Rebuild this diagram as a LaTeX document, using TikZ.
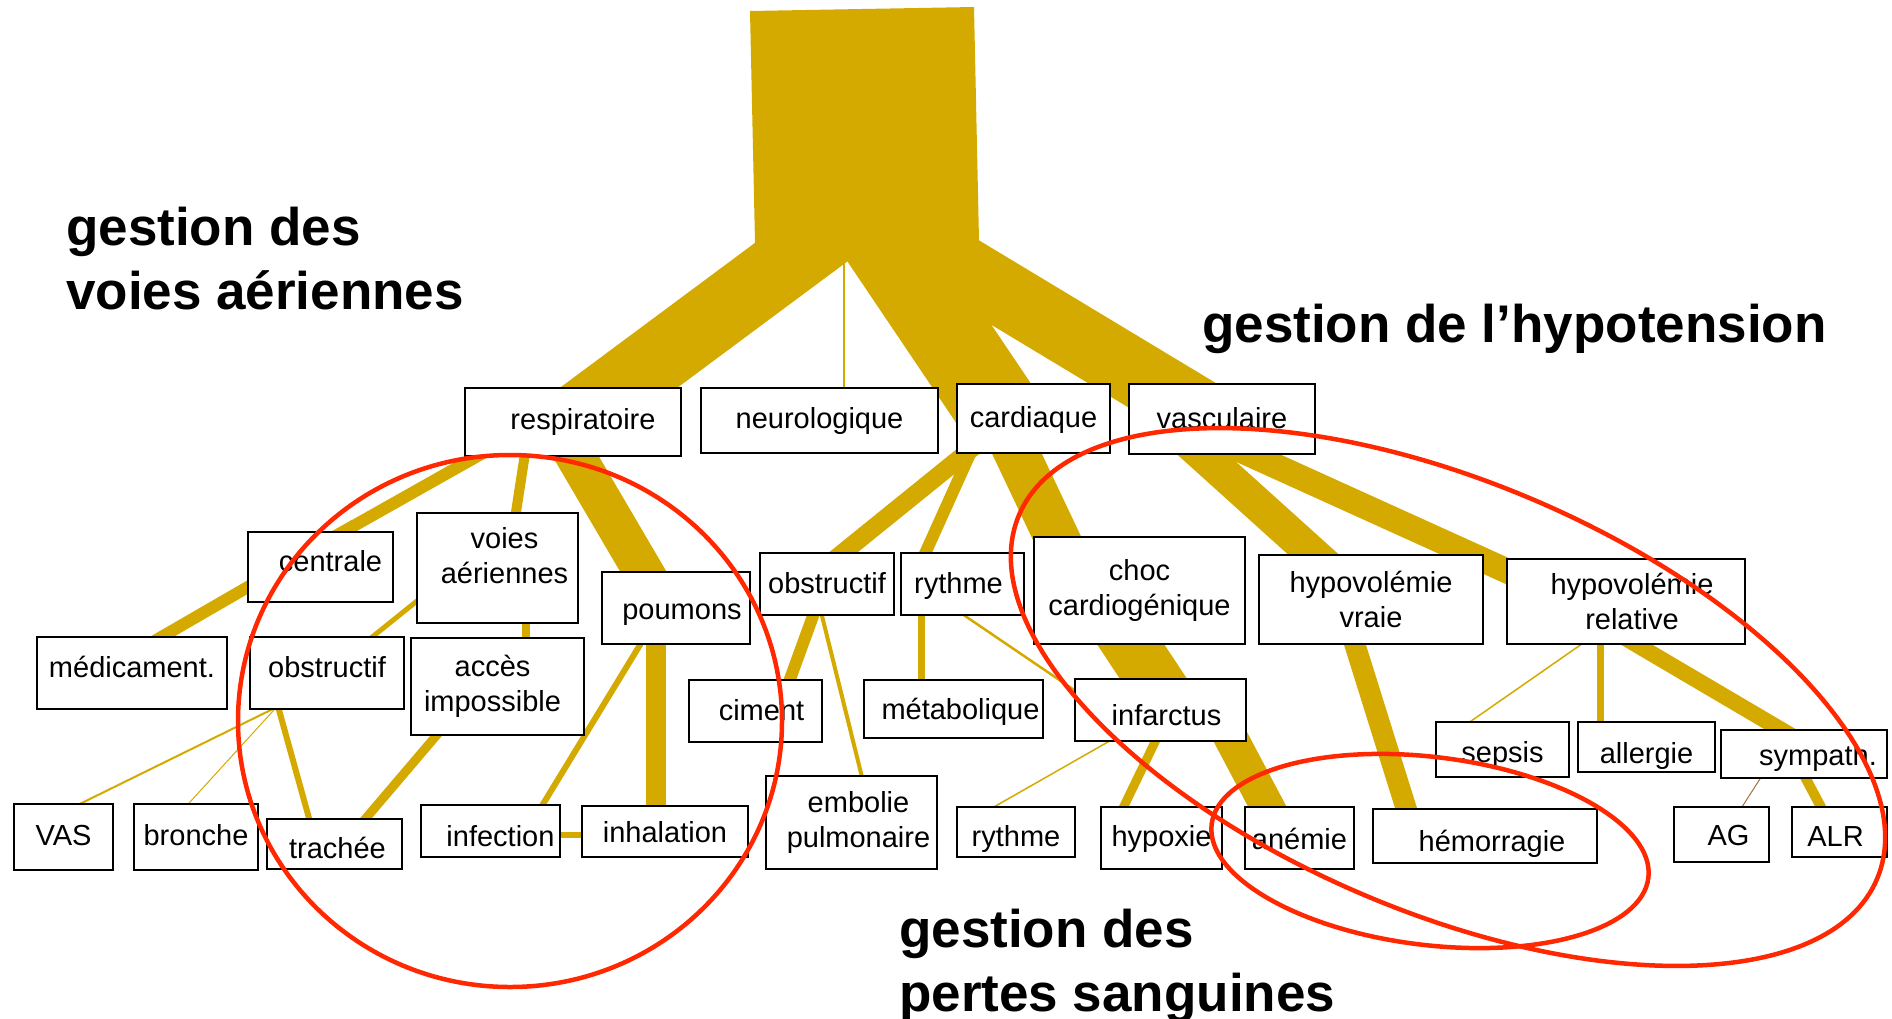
\documentclass[tikz,border=0pt]{standalone}
\usepackage{fontspec}
\setmainfont{Liberation Sans}
\usetikzlibrary{backgrounds}
\pgfdeclarelayer{bg}
\pgfsetlayers{bg,main}

\definecolor{gold}{RGB}{213,170,0}
\definecolor{ringred}{RGB}{255,40,0}
\definecolor{brownline}{RGB}{160,115,70}

\tikzset{
  box/.style={draw=black, line width=1.8pt, fill=white, inner sep=2pt, align=center,
    font=\fontsize{29pt}{34.8pt}\selectfont},
  % baseline of a one-line label sits #1 below the box centre
  tx/.code={\pgfmathsetlengthmacro\txh{17pt+#1pt}\pgfmathsetlengthmacro\txd{17pt-#1pt}%
    \edef\txtmp{\noexpand\pgfkeysalso{/tikz/text height=\txh, /tikz/text depth=\txd}}\txtmp},
  boxsize/.style 2 args={minimum width=#1pt, minimum height=#2pt},
  link/.style={draw=gold, line width=#1pt},
  ext/.style 2 args={shorten <=-#1pt, shorten >=-#2pt},
  title/.style={font=\fontsize{53pt}{63.6pt}\selectfont\bfseries, align=left,
    anchor=north west, inner sep=0pt},
  ring/.style={draw=ringred, line width=4.5pt}
}

\begin{document}
\begin{tikzpicture}[x=1pt, y=-1pt]
  \useasboundingbox (0,0) rectangle (1892,1018);

  % first level
  \node[box, tx=7, boxsize={216}{68}] (resp) at (573,422) {\hspace*{20pt}respiratoire};
  \node[box, tx=8, boxsize={237}{65}] (neuro) at (819.5,420.5) {neurologique};
  \node[box, tx=9.2, boxsize={153}{69}] (cardi) at (1033.5,418.5) {cardiaque};
  \node[box, tx=9.2, boxsize={186}{70}] (vasc) at (1222,419) {vasculaire};

  % second level
  \node[box, tx=4.4, boxsize={145}{70}] (centrale) at (320.5,567) {\hspace*{20pt}centrale};
  \node[box, boxsize={161}{110}] (voies) at (497.5,568)
    {\hspace*{14pt}voies\\\hspace*{14pt}aériennes\\[-10pt]\mbox{}};
  \node[box, tx=11.4, boxsize={148}{72}] (poumons) at (676,608) {\hspace*{12pt}poumons};
  \node[box, tx=9.2, boxsize={134}{62}] (obstrC) at (827,584) {obstructif};
  \node[box, tx=9.2, boxsize={123}{62}] (rythmeC) at (962.5,584) {rythme\hspace*{8pt}};
  \node[box, boxsize={211}{107}] (choc) at (1139.5,590.5) {choc\\cardiogénique};
  \node[box, boxsize={224}{89}] (hypoV) at (1371,599.5) {hypovolémie\\vraie};
  \node[box, boxsize={238}{85}] (hypoR) at (1626,601.5)
    {\hspace*{12pt}hypovolémie\\\hspace*{12pt}relative};

  % third level
  \node[box, tx=4.4, boxsize={190}{72}] (medic) at (132,673) {médicament.};
  \node[box, tx=4.4, boxsize={154}{72}] (obstrL) at (327,673) {obstructif};
  \node[box, boxsize={173}{97}] (acces) at (497.5,686.5)
    {accès\hspace*{10pt}\\impossible\hspace*{10pt}};
  \node[box, tx=9.2, boxsize={133}{62}] (ciment) at (755.5,711) {\hspace*{12pt}ciment};
  \node[box, tx=10.4, boxsize={179}{58}] (metab) at (953.5,709) {\hspace*{14pt}métabolique};
  \node[box, tx=15.4, boxsize={171}{62}] (infarct) at (1160.5,710) {\hspace*{12pt}infarctus};
  \node[box, tx=12.8, boxsize={133}{55}] (sepsis) at (1502.5,749.5) {sepsis};
  \node[box, tx=16.4, boxsize={137}{50}] (allergie) at (1646.5,747) {allergie};
  \node[box, tx=11.4, boxsize={166}{48}] (sympath) at (1804,754) {\hspace*{28pt}sympath.};

  % bottom row
  \node[box, tx=8, boxsize={99}{66}] (VAS) at (63.5,837) {VAS};
  \node[box, tx=8, boxsize={124}{66}] (bronche) at (196,837) {bronche};
  \node[box, tx=14, boxsize={135}{50}] (trachee) at (334.5,844) {\hspace*{6pt}trachée};
  \node[box, tx=15.4, boxsize={139}{52}] (infection) at (490.5,831) {\hspace*{20pt}infection};
  \node[box, tx=11.4, boxsize={166}{51}] (inhal) at (665,831.5) {inhalation};
  \node[box, boxsize={171}{93}] (embolie) at (851.5,822.5)
    {\hspace*{14pt}embolie\\\hspace*{14pt}pulmonaire};
  \node[box, tx=14, boxsize={118}{50}] (rythmeB) at (1016,832) {rythme};
  \node[box, tx=8, boxsize={121}{62}] (hypoxie) at (1161.5,838) {hypoxie};
  \node[box, tx=11.4, boxsize={109}{62}] (anemie) at (1299.5,838) {anémie};
  \node[box, tx=15.4, boxsize={224}{54}] (hemorr) at (1485,836) {\hspace*{14pt}hémorragie};
  \node[box, tx=11.4, boxsize={95}{55}] (AG) at (1721.5,834.5) {\hspace*{14pt}AG};
  \node[box, tx=14, boxsize={95}{50}] (ALR) at (1839.5,832) {ALR\hspace*{8pt}};

  \begin{pgfonlayer}{bg}
    \fill[white] (0,0) rectangle (1892,1018);
    % trunk
    \fill[gold] (750,11) -- (974,7) -- (979,241) -- (755,243) -- cycle;
    \coordinate (outResp) at (813.5,243);
    \coordinate (outNeuro) at (844,243);
    \coordinate (outCard) at (885.6,243);
    \coordinate (outVasc) at (919.5,243);
    \draw[link=70, ext={62}{50}] (outResp) -- ([xshift=46.5pt]resp.north);
    \draw[link=2, ext={5}{5}] (outNeuro) -- ([xshift=24.5pt]neuro.north);
    \draw[link=84, ext={40}{32}] (outCard) -- ([xshift=-53.5pt]cardi.north);
    \draw[link=66, ext={62}{58}] (outVasc) -- ([xshift=-70pt]vasc.north);

    % respiratoire
    \draw[link=12, ext={12}{12}] ([xshift=-97pt]resp.south) -- ([xshift=24pt]centrale.north);
    \draw[link=12, ext={12}{12}] ([xshift=24pt]centrale.north) -- ([xshift=31pt]medic.north);
    \draw[link=10, ext={6}{6}] ([xshift=-48.5pt]resp.south) -- ([xshift=18.5pt]voies.north);
    \draw[link=40, ext={14}{14}] ([xshift=3pt]resp.south) -- ([xshift=-33pt]poumons.north);
    \draw[link=8, ext={5}{5}] ([xshift=28pt]voies.south) -- ([xshift=28pt]acces.north);
    \draw[link=5, ext={30}{5}] ([yshift=-33.7pt]voies.west) -- ([xshift=46.3pt]obstrL.north);
    \draw[link=2, ext={5}{5}] ([xshift=-56pt]obstrL.south) -- ([xshift=18pt]VAS.north);
    \draw[link=1, ext={5}{5}] ([xshift=-53pt]obstrL.south) -- ([xshift=-7pt]bronche.north);
    \draw[link=6, ext={5}{5}] ([xshift=-48pt]obstrL.south) -- ([xshift=-25.5pt]trachee.north);
    \draw[link=9, ext={8}{8}] ([xshift=-61.5pt]acces.south) -- ([xshift=31.5pt]trachee.north);
    \draw[link=6, ext={5}{5}] ([xshift=-36pt]poumons.south) -- ([xshift=52.5pt]infection.north);
    \draw[link=20, ext={5}{5}] ([xshift=-20pt]poumons.south) -- ([xshift=-9pt]inhal.north);
    \draw[link=6, ext={5}{5}] ([yshift=-4pt]infection.east) -- ([yshift=-3.5pt]inhal.west);

    % cardiaque
    \draw[link=18, ext={14}{14}] ([xshift=-68.5pt]cardi.south) -- ([xshift=16.6pt]obstrC.north);
    \draw[link=12, ext={8}{8}] ([xshift=-63.5pt]cardi.south) -- ([xshift=-36.8pt]rythmeC.north);
    \draw[link=45, ext={14}{14}] ([xshift=-16.5pt]cardi.south) -- ([xshift=-83.5pt]choc.north);
    \draw[link=56, ext={22}{22}] ([xshift=-8.5pt]choc.south) -- ([xshift=-7.5pt]infarct.north);
    \draw[link=34, ext={12}{12}] ([xshift=72.5pt]infarct.south) -- ([xshift=-32.5pt]anemie.north);
    \draw[link=12, ext={6}{6}] ([xshift=-14pt]obstrC.south) -- ([xshift=34.5pt]ciment.north);
    \draw[link=4, ext={5}{5}] ([xshift=-5pt]obstrC.south) -- ([xshift=10pt]embolie.north);
    \draw[link=7, ext={5}{5}] ([xshift=-41.5pt]rythmeC.south) -- ([xshift=-32.5pt]metab.north);
    \draw[link=2.5, ext={5}{5}] ([xshift=2.5pt]rythmeC.south) -- ([yshift=20pt]infarct.west);
    \draw[link=1.5, ext={5}{5}] ([xshift=-52.5pt]infarct.south) -- ([xshift=-20.6pt]rythmeB.north);
    \draw[link=9, ext={5}{5}] ([xshift=-5.5pt]infarct.south) -- ([xshift=-37.5pt]hypoxie.north);

    % vasculaire
    \draw[link=34, ext={22}{22}] ([xshift=-19pt]vasc.south) -- ([xshift=-58pt]hypoV.north);
    \draw[link=25, ext={34}{10}] ([xshift=29pt]vasc.south) -- ([yshift=31pt]hypoR.west);
    \draw[link=21, ext={8}{8}] ([xshift=-16pt]hypoV.south) -- ([xshift=-79pt]hemorr.north);
    \draw[link=1.5, ext={5}{5}] ([xshift=-45.5pt]hypoR.south) -- ([xshift=-31.5pt]sepsis.north);
    \draw[link=7, ext={5}{5}] ([xshift=-25.5pt]hypoR.south) -- ([xshift=-46pt]allergie.north);
    \draw[link=16, ext={16}{16}] ([xshift=11pt]hypoR.south) -- ([xshift=-24pt]sympath.north);
    \draw[link=1, draw=brownline, ext={5}{5}] ([xshift=-44pt]sympath.south) -- ([xshift=21pt]AG.north);
    \draw[link=10, ext={5}{5}] ([xshift=2pt]sympath.south) -- ([xshift=-19pt]ALR.north);
  \end{pgfonlayer}

  % titles
  \node[title] (tAir) at (66,207) {gestion des\\voies aériennes};
  \node[title] (tTension) at (1202,303.5) {gestion de l’hypotension};
  \node[title] (tBlood) at (899,909) {gestion des\\pertes sanguines};

  % red loops
  \draw[ring] (510,721) ellipse [x radius=272, y radius=266];
  \draw[ring, rotate around={-23:(1448,697)}] (1448,697) ellipse [x radius=466, y radius=215];
  \draw[ring, rotate around={-7:(1430,851)}] (1430,851) ellipse [x radius=220, y radius=94];
\end{tikzpicture}
\end{document}
